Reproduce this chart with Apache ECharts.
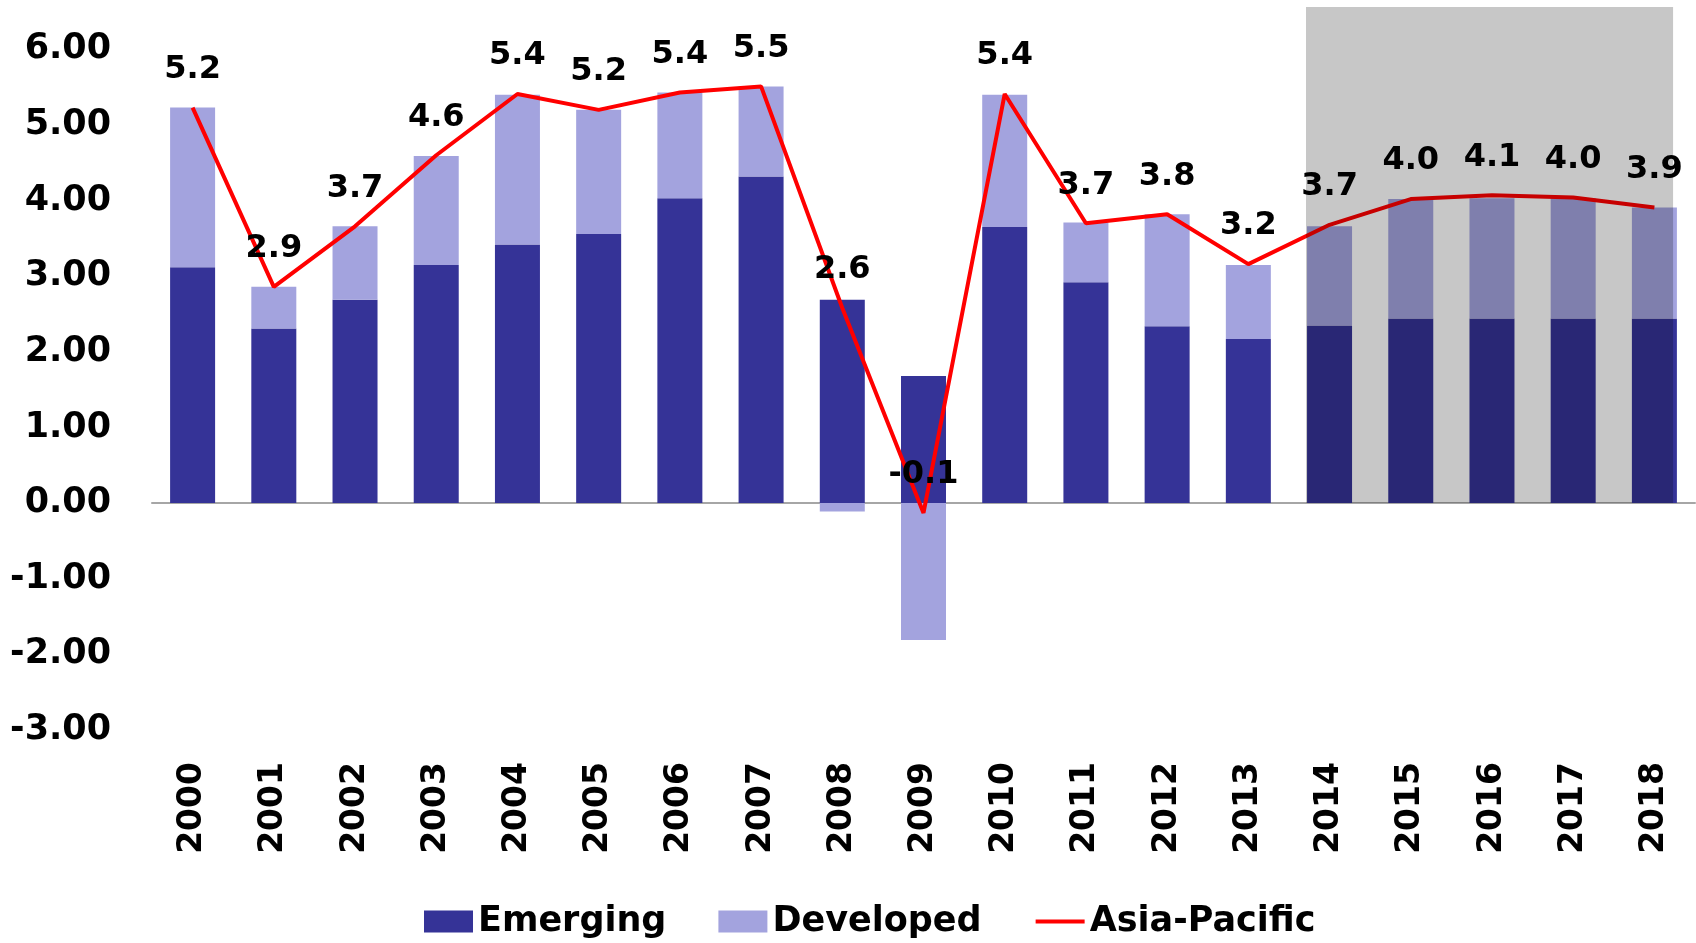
<!DOCTYPE html>
<html>
<head>
<meta charset="utf-8">
<script src="https://cdn.jsdelivr.net/npm/echarts@6/dist/echarts.min.js"></script>
<style>
  html, body { margin: 0; padding: 0; background: #fff; }
  #chart { width: 1696px; height: 943px; }
</style>
</head>
<body>
<div id="chart"></div>
<script>
var years = ['2000', '2001', '2002', '2003', '2004', '2005', '2006', '2007', '2008', '2009',
             '2010', '2011', '2012', '2013', '2014', '2015', '2016', '2017', '2018'];
var emerging = [3.12, 2.31, 2.69, 3.15, 3.42, 3.56, 4.03, 4.32, 2.69, 1.68,
                3.65, 2.92, 2.34, 2.17, 2.35, 2.44, 2.44, 2.44, 2.44];
var developed = [2.11, 0.55, 0.97, 1.44, 1.98, 1.64, 1.40, 1.19, -0.11, -1.81,
                 1.75, 0.79, 1.48, 0.98, 1.31, 1.58, 1.59, 1.59, 1.47];
var asiaPacific = [5.23, 2.86, 3.66, 4.60, 5.41, 5.20, 5.43, 5.51, 2.58, -0.13,
                   5.41, 3.70, 3.82, 3.16, 3.68, 4.02, 4.07, 4.04, 3.91];
// forecast years shaded (from left edge of 2014 bar to 2018)
var forecastFrom = 13.71;
var forecastTo = 18.23;
var yMin = -3, yMax = 6.56;

var font = 'DejaVu Sans';
var chart = echarts.init(document.getElementById('chart'));
chart.setOption({
    animation: false,
    grid: { left: 152, right: 1, top: 7, bottom: 213 },
    legend: {
        data: [
            { name: 'Emerging', icon: 'rect' },
            { name: 'Developed', icon: 'rect' },
            { name: 'Asia-Pacific', itemStyle: { opacity: 0 }, lineStyle: { width: 4 } }
        ],
        left: 419,
        top: 899,
        itemWidth: 49,
        itemHeight: 22,
        itemGap: 52,
        textStyle: { fontFamily: font, fontWeight: 'bold', fontSize: 35, color: '#000' }
    },
    xAxis: [{
        type: 'category',
        data: years,
        axisLine: { show: false, onZero: false },
        axisTick: { show: false },
        axisLabel: {
            rotate: 90, margin: 32, interval: 0,
            fontFamily: font, fontWeight: 'bold', fontSize: 33, color: '#000'
        }
    }, {
        type: 'value',
        min: -0.5, max: 18.5,
        position: 'bottom',
        axisLine: { show: true, onZero: true, lineStyle: { color: '#a6a6a6', width: 2 } },
        axisTick: { show: false },
        axisLabel: { show: false },
        splitLine: { show: false }
    }],
    yAxis: {
        type: 'value',
        min: yMin, max: yMax, interval: 1,
        axisLine: { show: false },
        axisTick: { show: false },
        splitLine: { show: false },
        axisLabel: {
            margin: 41,
            fontFamily: font, fontWeight: 'bold', fontSize: 35, color: '#000',
            formatter: function (v) { return v > 6 ? '' : v.toFixed(2); }
        }
    },
    series: [{
        name: 'Emerging',
        type: 'bar',
        stack: 'total',
        barWidth: 45,
        itemStyle: { color: '#353397' },
        data: emerging
    }, {
        name: 'Developed',
        type: 'bar',
        stack: 'total',
        barWidth: 45,
        itemStyle: { color: '#a3a3de' },
        data: developed
    }, {
        name: 'Asia-Pacific',
        type: 'line',
        symbol: 'none',
        lineStyle: { color: '#ff0000', width: 4 },
        itemStyle: { color: '#ff0000' },
        data: asiaPacific
    }, {
        // value labels for the Asia-Pacific line
        name: 'Asia-Pacific labels',
        type: 'scatter',
        symbolSize: 0,
        z: 3,
        itemStyle: { opacity: 1, color: '#ff0000' },
        label: {
            show: true, position: 'top', distance: 22,
            fontFamily: font, fontWeight: 'bold', fontSize: 32, color: '#000',
            formatter: function (p) { return p.value.toFixed(1); }
        },
        data: asiaPacific
    }, {
        name: 'forecast',
        type: 'line',
        xAxisIndex: 1,
        z: 5,
        data: [],
        markArea: {
            silent: true,
            z: 10,
            itemStyle: { color: 'rgba(0,0,0,0.22)' },
            data: [[{ xAxis: forecastFrom, yAxis: 0 }, { xAxis: forecastTo, yAxis: yMax }]]
        }
    }]
});
</script>
</body>
</html>
